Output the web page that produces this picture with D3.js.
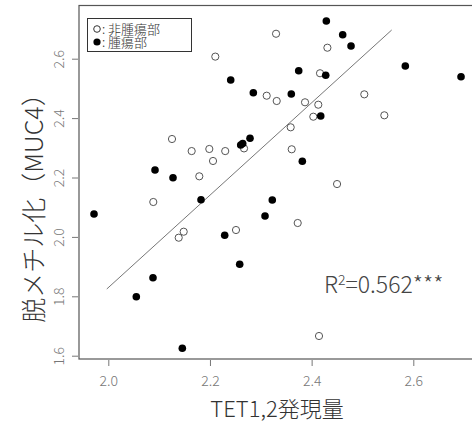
<!DOCTYPE html>
<html>
<head>
<meta charset="utf-8">
<script src="https://cdn.jsdelivr.net/npm/d3@7"></script>
<style>
  body { margin: 0; background: #fff; }
  text { font-family: "Noto Sans CJK JP", "Noto Sans", sans-serif; font-weight: 300; }
</style>
</head>
<body>
<div id="chart"></div>
<script>
var width = 472,
    height = 426;

// non-tumour (open circles)
var normalX = [2.330, 2.431, 2.2105, 2.4165, 2.3116, 2.5036, 2.3313, 2.387, 2.4131, 2.4033,
               2.543, 2.3588, 2.1253, 2.267, 2.1987, 2.164, 2.230, 2.3608, 2.206, 2.179,
               2.45, 2.0885, 2.3726, 2.2512, 2.1483, 2.1385, 2.4145];
var normalY = [2.684, 2.637, 2.607, 2.551, 2.4754, 2.480, 2.4576, 2.4532, 2.4451, 2.4047,
               2.4094, 2.369, 2.3296, 2.298, 2.296, 2.289, 2.289, 2.295, 2.2556, 2.204,
               2.178, 2.1175, 2.0468, 2.0232, 2.0175, 1.9973, 1.6663];

// tumour (filled circles)
var tumorX = [2.4289, 2.4611, 2.4775, 2.5843, 2.6939, 2.3746, 2.4277, 2.2408, 2.2853, 2.36,
              2.4179, 2.2788, 2.2605, 2.2644, 2.3817, 2.0919, 2.1273, 2.1824, 2.3226, 1.9719,
              2.3083, 2.229, 2.2585, 2.0879, 2.0551, 2.1456];
var tumorY = [2.727, 2.6808, 2.6428, 2.5754, 2.5394, 2.5596, 2.5441, 2.5283, 2.4855, 2.4811,
              2.4071, 2.332, 2.3094, 2.3145, 2.2545, 2.2253, 2.1993, 2.1253, 2.1242, 2.0771,
              2.0704, 2.0054, 1.9077, 1.8626, 1.7987, 1.6249];

// regression line end points
var fitX = [1.997, 2.5575];
var fitY = [1.8246, 2.6966];

var xTicks = [2.0, 2.2, 2.4, 2.6];
var yTicks = [1.6, 1.8, 2.0, 2.2, 2.4, 2.6];
var legendLabels = ["非腫瘍部", "腫瘍部"];

var frame = { left: 79, top: 5.5, bottom: 359 };

var x = d3.scaleLinear().domain([2.0, 2.6]).range([108.3, 413.3]);
var y = d3.scaleLinear().domain([1.6, 2.6]).range([355.7, 58.7]);

var svg = d3.select("#chart").append("svg")
    .attr("width", width)
    .attr("height", height);

// plot box (right side runs off the picture)
svg.append("rect")
    .attr("x", frame.left)
    .attr("y", frame.top)
    .attr("width", width + 20 - frame.left)
    .attr("height", frame.bottom - frame.top)
    .attr("fill", "none")
    .attr("stroke", "#555")
    .attr("stroke-width", 1.2);

// axes
var xAxis = svg.append("g")
    .attr("transform", "translate(0," + (frame.bottom + 1) + ")")
    .call(d3.axisBottom(x).tickValues(xTicks).tickSize(6).tickPadding(10).tickFormat(d3.format(".1f")));
xAxis.select(".domain").remove();
xAxis.selectAll("line").attr("stroke", "#777");
xAxis.selectAll("text").attr("fill", "#777").style("font-size", "14px");

var yAxis = svg.append("g")
    .attr("transform", "translate(" + (frame.left - 1) + ",0)")
    .call(d3.axisLeft(y).tickValues(yTicks).tickSize(6).tickPadding(6).tickFormat(d3.format(".1f")));
yAxis.select(".domain").remove();
yAxis.selectAll("line").attr("stroke", "#777");
yAxis.selectAll("text")
    .attr("fill", "#777")
    .style("font-size", "14px")
    .attr("text-anchor", "middle")
    .attr("dy", null)
    .attr("x", null)
    .attr("transform", "translate(-14,0) rotate(-90)");

// regression line
svg.append("line")
    .attr("x1", x(fitX[0])).attr("y1", y(fitY[0]))
    .attr("x2", x(fitX[1])).attr("y2", y(fitY[1]))
    .attr("stroke", "#777")
    .attr("stroke-width", 1);

// points
var normal = normalX.map(function (d, i) { return [d, normalY[i]]; });
var tumor = tumorX.map(function (d, i) { return [d, tumorY[i]]; });

svg.append("g").selectAll("circle")
    .data(normal)
  .enter().append("circle")
    .attr("cx", function (d) { return x(d[0]); })
    .attr("cy", function (d) { return y(d[1]); })
    .attr("r", 3.6)
    .attr("fill", "#fff")
    .attr("stroke", "#555")
    .attr("stroke-width", 1);

svg.append("g").selectAll("circle")
    .data(tumor)
  .enter().append("circle")
    .attr("cx", function (d) { return x(d[0]); })
    .attr("cy", function (d) { return y(d[1]); })
    .attr("r", 3.8)
    .attr("fill", "#000");

// legend
var legend = svg.append("g");
legend.append("rect")
    .attr("x", 87.5).attr("y", 18.5)
    .attr("width", 104).attr("height", 33)
    .attr("fill", "#fff")
    .attr("stroke", "#333")
    .attr("stroke-width", 1);
legendLabels.forEach(function (label, i) {
    var cy = 29 + i * 13;
    legend.append("circle")
        .attr("cx", 97).attr("cy", cy)
        .attr("r", i === 0 ? 3.3 : 3.6)
        .attr("fill", i === 0 ? "#fff" : "#000")
        .attr("stroke", i === 0 ? "#333" : "none");
    legend.append("text")
        .attr("x", 102).attr("y", cy + 4.5)
        .attr("fill", "#333")
        .style("font-size", "13px")
        .text(": " + label);
});

// R squared
var r2 = svg.append("text")
    .attr("x", 324).attr("y", 293)
    .attr("fill", "#444")
    .style("font-size", "23px");
r2.append("tspan").text("R");
r2.append("tspan").attr("dy", -8).style("font-size", "14px").text("2");
r2.append("tspan").attr("dy", 8).text("=0.562***");

// axis titles
svg.append("text")
    .attr("x", 277).attr("y", 417)
    .attr("text-anchor", "middle")
    .attr("fill", "#333")
    .style("font-size", "22px")
    .text("TET1,2発現量");

svg.append("text")
    .attr("transform", "translate(43,202) rotate(-90)")
    .attr("text-anchor", "middle")
    .attr("fill", "#333")
    .style("font-size", "25px")
    .text("脱メチル化（MUC4）");
</script>
</body>
</html>
